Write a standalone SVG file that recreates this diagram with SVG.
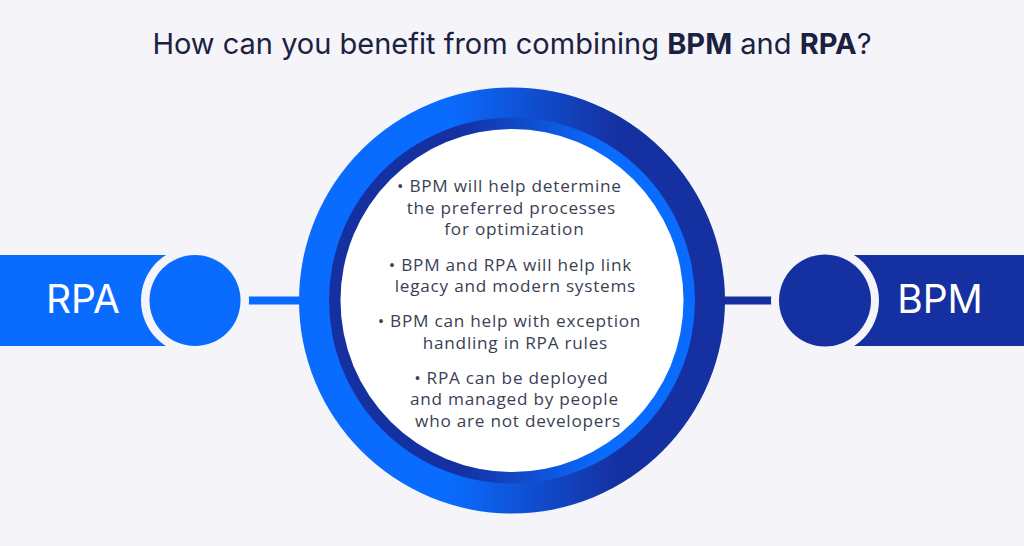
<svg xmlns="http://www.w3.org/2000/svg" width="1024" height="546" viewBox="0 0 1024 546">
<defs>
<linearGradient id="outerG" x1="0" y1="0" x2="1" y2="0">
<stop offset="0" stop-color="#0a6cff"/>
<stop offset="0.35" stop-color="#0a6cff"/>
<stop offset="0.75" stop-color="#1530a0"/>
<stop offset="1" stop-color="#1530a0"/>
</linearGradient>
<linearGradient id="innerG" x1="0" y1="0" x2="1" y2="0">
<stop offset="0" stop-color="#1530a0"/>
<stop offset="0.35" stop-color="#1530a0"/>
<stop offset="0.75" stop-color="#0a6cff"/>
<stop offset="1" stop-color="#0a6cff"/>
</linearGradient>
<style>
.title{font-family:Inter,"Liberation Sans",sans-serif;font-size:29px;fill:#1b2140;text-anchor:middle}
.b{font-weight:700}
.lbl{font-family:Inter,"Liberation Sans",sans-serif;font-size:39px;fill:#ffffff;text-anchor:middle}
.body{font-family:"Open Sans","Liberation Sans",sans-serif;font-size:17.2px;fill:#3a3f55;text-anchor:middle;letter-spacing:0.75px}
</style>
</defs>
<rect width="1024" height="546" fill="#f4f4f9"/>
<text class="title" x="512" y="54">How can you benefit from combining <tspan class="b">BPM</tspan> and <tspan class="b">RPA</tspan>?</text>
<g id="connectors">
<line x1="230" y1="300.5" x2="305" y2="300.5" stroke="#0a6cff" stroke-width="8"/>
<line x1="720" y1="300.5" x2="790" y2="300.5" stroke="#1530a0" stroke-width="8"/>
</g>
<g id="rpa">
<rect x="0" y="255" width="175" height="91" fill="#0a6cff"/>
<circle cx="195" cy="300.5" r="54" fill="#f4f4f9"/>
<circle cx="195" cy="300.5" r="45.5" fill="#0a6cff"/>
<text class="lbl" x="83" y="313">RPA</text>
</g>
<g id="bpm">
<rect x="849" y="255" width="175" height="91" fill="#1530a0"/>
<circle cx="825" cy="300.5" r="54" fill="#f4f4f9"/>
<circle cx="825" cy="300.5" r="46" fill="#1530a0"/>
<text class="lbl" x="940" y="313">BPM</text>
</g>
<g id="center">
<circle cx="512" cy="300.5" r="213" fill="url(#outerG)"/>
<circle cx="512" cy="300.5" r="183" fill="url(#innerG)"/>
<circle cx="512" cy="300.5" r="171.5" fill="#ffffff"/>
<text class="body">
<tspan x="512" y="192">• BPM will help determine</tspan>
<tspan x="514" y="213.5">the preferred processes</tspan>
<tspan x="517" y="235">for optimization</tspan>
<tspan x="513" y="270.5">• BPM and RPA will help link</tspan>
<tspan x="518" y="292">legacy and modern systems</tspan>
<tspan x="512" y="327">• BPM can help with exception</tspan>
<tspan x="518" y="348.5">handling in RPA rules</tspan>
<tspan x="514" y="383.5">• RPA can be deployed</tspan>
<tspan x="517" y="405">and managed by people</tspan>
<tspan x="518" y="426.5">who are not developers</tspan>
</text>
</g>
</svg>
